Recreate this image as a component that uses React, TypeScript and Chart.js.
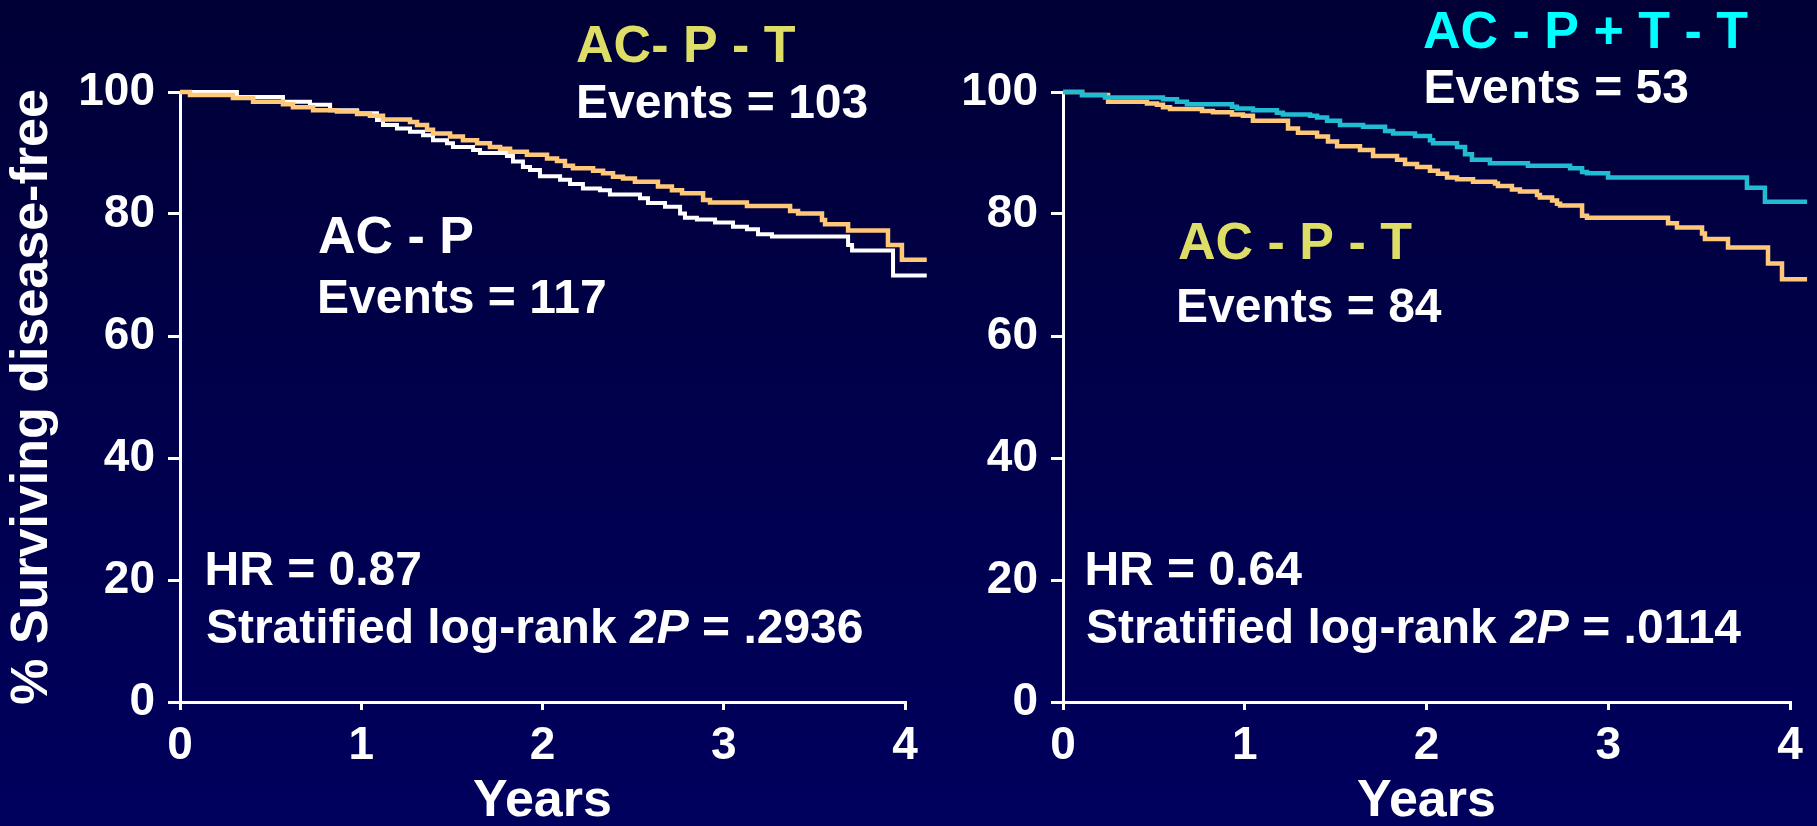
import React, { useEffect, useRef } from "react";
import { Chart, registerables } from "chart.js";

Chart.register(...registerables);

const FONT = "Arial, 'Liberation Sans', Helvetica, sans-serif";

// ---------- Axis definitions ----------
const xTickValues = [0, 1, 2, 3, 4];
const yTickValues = [0, 20, 40, 60, 80, 100];
const xAxisTitle = "Years";
const yAxisTitle = "% Surviving disease-free";

// ---------- Left panel: AC-P vs AC-P-T ----------
const leftAcpTimes = [0, 0.314, 0.568, 0.717, 0.828, 0.977, 1.087, 1.12, 1.197, 1.269, 1.341, 1.396, 1.473, 1.506, 1.617, 1.655, 1.804, 1.837, 1.892, 1.931, 1.986, 2.097, 2.152, 2.223, 2.317, 2.372, 2.538, 2.582, 2.676, 2.759, 2.786, 2.852, 2.952, 3.051, 3.128, 3.189, 3.266, 3.686, 3.708, 3.934, 4.12];
const leftAcpSurv = [100, 99.2, 98.4, 97.9, 97.0, 96.5, 95.4, 94.6, 94.0, 93.5, 92.9, 92.1, 91.6, 91.0, 90.5, 90.0, 89.5, 88.6, 87.7, 87.2, 86.2, 85.6, 84.9, 84.2, 83.9, 83.2, 82.6, 81.8, 81.2, 80.1, 79.4, 79.1, 78.6, 77.9, 77.5, 76.7, 76.3, 74.9, 74.0, 69.9, 69.9];

const leftAcptTimes = [0, 0.055, 0.292, 0.403, 0.568, 0.623, 0.734, 0.866, 0.977, 1.048, 1.12, 1.269, 1.308, 1.363, 1.396, 1.49, 1.561, 1.639, 1.71, 1.766, 1.821, 1.914, 2.025, 2.08, 2.124, 2.168, 2.279, 2.334, 2.389, 2.444, 2.51, 2.637, 2.714, 2.77, 2.886, 2.924, 3.128, 3.366, 3.41, 3.542, 3.559, 3.686, 3.906, 3.983, 4.12];
const leftAcptSurv = [100, 99.5, 99.0, 98.4, 98.0, 97.5, 97.0, 96.8, 96.4, 96.1, 95.5, 95.1, 94.6, 93.8, 93.2, 92.7, 92.1, 91.6, 91.0, 90.7, 90.2, 89.7, 89.1, 88.7, 87.9, 87.5, 87.1, 86.7, 86.1, 85.8, 85.3, 84.5, 83.9, 83.4, 82.3, 81.9, 81.3, 80.5, 80.1, 79.0, 78.3, 77.3, 74.9, 72.5, 72.5];

// ---------- Right panel: AC-P-T vs AC-P+T-T ----------
const rightAcpttTimes = [0, 0.105, 0.231, 0.55, 0.627, 0.682, 0.93, 0.957, 1.045, 1.177, 1.21, 1.359, 1.398, 1.453, 1.524, 1.651, 1.772, 1.816, 1.937, 2.019, 2.036, 2.168, 2.212, 2.25, 2.349, 2.558, 2.79, 2.856, 2.883, 2.999, 3.763, 3.862, 4.094];
const rightAcpttSurv = [100, 99.5, 99.1, 98.8, 98.4, 98.0, 97.6, 97.3, 97.0, 96.6, 96.3, 96.1, 95.8, 95.3, 94.6, 94.3, 93.6, 93.2, 92.8, 92.1, 91.6, 91.0, 89.8, 88.9, 88.3, 87.9, 87.5, 86.9, 86.7, 86.0, 84.3, 82.0, 82.0];

const rightAcptTimes = [0, 0.105, 0.248, 0.462, 0.517, 0.55, 0.589, 0.765, 0.825, 0.93, 0.99, 1.045, 1.238, 1.293, 1.398, 1.458, 1.508, 1.634, 1.706, 1.838, 1.882, 1.948, 2.019, 2.063, 2.113, 2.168, 2.256, 2.377, 2.393, 2.47, 2.514, 2.608, 2.624, 2.691, 2.718, 2.735, 2.856, 2.883, 3.329, 3.378, 3.516, 3.532, 3.659, 3.879, 3.956, 4.094];
const rightAcptSurv = [100, 99.5, 98.4, 98.1, 97.9, 97.5, 97.2, 96.9, 96.7, 96.3, 96.1, 95.3, 94.0, 93.3, 92.7, 91.9, 91.1, 90.5, 89.5, 88.9, 88.2, 87.7, 87.1, 86.6, 86.0, 85.7, 85.3, 85.0, 84.6, 84.0, 83.7, 83.1, 82.7, 82.2, 81.7, 81.4, 79.7, 79.4, 78.5, 77.8, 76.8, 75.9, 74.5, 71.9, 69.3, 69.3];

// ---------- Text labels ----------
const leftLabels = {
  groupA: "AC- P - T",
  eventsA: "Events = 103",
  groupB: "AC - P",
  eventsB: "Events = 117",
  hr: "HR = 0.87",
  p: ".2936",
};
const rightLabels = {
  groupA: "AC - P + T - T",
  eventsA: "Events = 53",
  groupB: "AC - P - T",
  eventsB: "Events = 84",
  hr: "HR = 0.64",
  p: ".0114",
};

const WHITE = "#ffffff";
const ORANGE = "#ffc878";
const CYAN_LINE = "#22bcd2";
const YELLOW_TEXT = "#dede66";
const CYAN_TEXT = "#00ffff";

type Run = { text: string; italic?: boolean };
type Note = { x: number; y: number; size: number; color: string; runs: Run[] };

const toPoints = (t: number[], s: number[]) => t.map((v, i) => ({ x: v, y: s[i] }));

const statRuns = (p: string): Run[] => [
  { text: "Stratified log-rank " },
  { text: "2P", italic: true },
  { text: " = " + p },
];

const notesPlugin = (notes: Note[]) => ({
  id: "panelNotes",
  afterDraw(chart: any) {
    const ctx = chart.ctx;
    const xs = chart.scales.x;
    const ys = chart.scales.y;
    ctx.save();
    ctx.textAlign = "left";
    ctx.textBaseline = "alphabetic";
    for (const n of notes) {
      let x = xs.getPixelForValue(n.x);
      const y = ys.getPixelForValue(n.y);
      for (const r of n.runs) {
        ctx.font = `${r.italic ? "italic " : ""}bold ${n.size}px ${FONT}`;
        ctx.fillStyle = n.color;
        ctx.fillText(r.text, x, y);
        x += ctx.measureText(r.text).width;
      }
    }
    ctx.restore();
  },
});

type PanelProps = {
  left: number;
  width: number;
  yWidth: number;
  padRight: number;
  showYTitle: boolean;
  datasets: any[];
  notes: Note[];
};

function Panel({ left, width, yWidth, padRight, showYTitle, datasets, notes }: PanelProps) {
  const ref = useRef<HTMLCanvasElement | null>(null);
  useEffect(() => {
    if (!ref.current) return;
    const chart = new Chart(ref.current, {
      type: "line",
      data: { datasets },
      options: {
        animation: false,
        responsive: false,
        devicePixelRatio: 1,
        layout: { padding: { left: 0, right: padRight, top: 92, bottom: 0 } },
        plugins: { legend: { display: false }, tooltip: { enabled: false } },
        elements: { point: { radius: 0 } },
        scales: {
          x: {
            type: "linear",
            min: 0,
            max: 4,
            afterBuildTicks: (scale: any) => {
              scale.ticks = xTickValues.map((v) => ({ value: v }));
            },
            ticks: {
              color: WHITE,
              padding: 13,
              font: { family: FONT, size: 46, weight: "bold", lineHeight: 1 },
              maxRotation: 0,
              callback: (v: any) => String(v),
            },
            grid: { display: true, drawOnChartArea: false, drawTicks: true, tickLength: 8, color: WHITE, lineWidth: 3 },
            border: { display: true, color: WHITE, width: 3 },
            title: {
              display: true,
              text: xAxisTitle,
              color: WHITE,
              font: { family: FONT, size: 52, weight: "bold", lineHeight: 1 },
              padding: { top: 0, bottom: -2 },
            },
            afterFit: (scale: any) => {
              scale.height = 124;
            },
          },
          y: {
            type: "linear",
            min: 0,
            max: 100,
            afterBuildTicks: (scale: any) => {
              scale.ticks = yTickValues.map((v) => ({ value: v }));
            },
            ticks: {
              color: WHITE,
              padding: 13,
              font: { family: FONT, size: 46, weight: "bold", lineHeight: 1 },
              callback: (v: any) => String(v),
            },
            grid: { display: true, drawOnChartArea: false, drawTicks: true, tickLength: 12, color: WHITE, lineWidth: 3 },
            border: { display: true, color: WHITE, width: 3 },
            title: {
              display: showYTitle,
              text: yAxisTitle,
              color: WHITE,
              font: { family: FONT, size: 52, weight: "bold", lineHeight: 1 },
              padding: { top: 7, bottom: 0 },
            },
            afterFit: (scale: any) => {
              scale.width = yWidth;
            },
          },
        },
      } as any,
      plugins: [notesPlugin(notes)],
    });
    return () => chart.destroy();
  }, []);
  return (
    <canvas
      ref={ref}
      width={width}
      height={826}
      style={{ position: "absolute", left, top: 0, width, height: 826 }}
    />
  );
}

const lineStyle = (color: string, width: number) => ({
  borderColor: color,
  backgroundColor: color,
  borderWidth: width,
  stepped: "before",
  pointRadius: 0,
  tension: 0,
  fill: false,
  clip: false,
});

export default function App() {
  const leftDatasets = [
    { label: "AC-P-T", data: toPoints(leftAcptTimes, leftAcptSurv), ...lineStyle(ORANGE, 4.5) },
    { label: "AC-P", data: toPoints(leftAcpTimes, leftAcpSurv), ...lineStyle(WHITE, 4) },
  ];
  const rightDatasets = [
    { label: "AC-P+T-T", data: toPoints(rightAcpttTimes, rightAcpttSurv), ...lineStyle(CYAN_LINE, 4.5) },
    { label: "AC-P-T", data: toPoints(rightAcptTimes, rightAcptSurv), ...lineStyle(ORANGE, 4.5) },
  ];

  const leftNotes: Note[] = [
    { x: 2.185, y: 104.9, size: 52, color: YELLOW_TEXT, runs: [{ text: leftLabels.groupA }] },
    { x: 2.185, y: 95.7, size: 48, color: WHITE, runs: [{ text: leftLabels.eventsA }] },
    { x: 0.761, y: 73.6, size: 52, color: WHITE, runs: [{ text: leftLabels.groupB }] },
    { x: 0.756, y: 63.8, size: 48, color: WHITE, runs: [{ text: leftLabels.eventsB }] },
    { x: 0.135, y: 19.2, size: 48, color: WHITE, runs: [{ text: leftLabels.hr }] },
    { x: 0.143, y: 9.7, size: 48, color: WHITE, runs: statRuns(leftLabels.p) },
  ];
  const rightNotes: Note[] = [
    { x: 1.981, y: 107.2, size: 52, color: CYAN_TEXT, runs: [{ text: rightLabels.groupA }] },
    { x: 1.983, y: 98.2, size: 48, color: WHITE, runs: [{ text: rightLabels.eventsA }] },
    { x: 0.633, y: 72.6, size: 52, color: YELLOW_TEXT, runs: [{ text: rightLabels.groupB }] },
    { x: 0.622, y: 62.3, size: 48, color: WHITE, runs: [{ text: rightLabels.eventsB }] },
    { x: 0.118, y: 19.2, size: 48, color: WHITE, runs: [{ text: rightLabels.hr }] },
    { x: 0.127, y: 9.7, size: 48, color: WHITE, runs: statRuns(rightLabels.p) },
  ];

  return (
    <div
      style={{
        position: "fixed",
        left: 0,
        top: 0,
        width: 1817,
        height: 826,
        overflow: "hidden",
        background: "linear-gradient(to bottom, #000036 0%, #00004c 50%, #00005e 100%)",
      }}
    >
      <Panel left={0} width={940} yWidth={180} padRight={35} showYTitle={true} datasets={leftDatasets} notes={leftNotes} />
      <Panel left={940} width={877} yWidth={123} padRight={27} showYTitle={false} datasets={rightDatasets} notes={rightNotes} />
    </div>
  );
}
